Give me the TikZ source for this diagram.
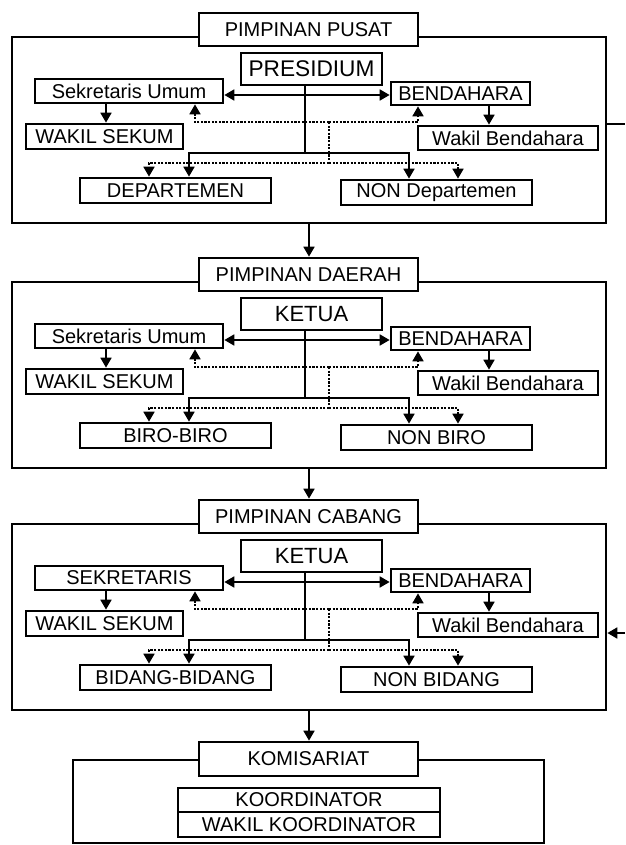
\documentclass[tikz,border=0pt]{standalone}
\usepackage{fontspec}
\setmainfont{Liberation Sans}
\usetikzlibrary{arrows.meta}
\newcommand\bx[6]{\node[#1, minimum width={((#4)-(#2))*0.75pt}, minimum height={((#5)-(#3))*0.75pt}] (#6) at ({((#2)+(#4))/2},{((#3)+(#5))/2})}
\tikzset{
  box/.style={draw, line width=1.9pt, inner sep=0pt, fill=white, font=\fontsize{15}{18}\selectfont},
  frame/.style={draw, line width=1.9pt, inner sep=0pt},
  ln/.style={line width=1.9pt},
  arr/.style={line width=1.9pt, -{Triangle[length=7.5pt,width=8pt]}},
  darr/.style={line width=1.9pt, {Triangle[length=7.5pt,width=8pt]}-{Triangle[length=7.5pt,width=8pt]}},
  dot/.style={dash pattern=on 1.6pt off 1.1pt},
}
\newcommand\orgsec[8]{%
  \bx{frame}{12}{37+#2}{606}{223+#2}{out#1}{};
  \bx{box}{199}{13+#2}{418}{46+#2}{tt#1}{#3};
  \bx{box,font=\fontsize{#8}{#8}\selectfont}{241}{53+#2}{382}{85+#2}{hd#1}{#4};
  \bx{box}{35}{79+#2}{223}{103+#2}{sl#1}{#5};
  \bx{box}{391}{82+#2}{530}{105+#2}{bd#1}{BENDAHARA};
  \bx{box}{26}{124+#2}{183}{149+#2}{ws#1}{WAKIL SEKUM};
  \bx{box}{418}{126+#2}{598}{150+#2}{wb#1}{Wakil Bendahara};
  \bx{box}{80}{178+#2}{271}{203+#2}{bl#1}{#6};
  \bx{box}{341}{180+#2}{532}{205+#2}{br#1}{#7};
  \coordinate (bus#1) at (305,{153+#2});
  \coordinate (da#1) at (0,{95+#2});
  \coordinate (dm#1) at (329,{122+#2});
  \coordinate (dn#1) at (329,{163+#2});
  \draw[ln] (hd#1.south -| bus#1) -- (bus#1);
  \draw[arr] (bus#1) -| (bl#1.north -| 189,0);
  \draw[arr] (bus#1) -| (br#1.north -| 409,0);
  \draw[darr] (sl#1.east |- da#1) -- (bd#1.west |- da#1);
  \draw[arr] (sl#1.south -| 106,0) -- (ws#1.north -| 106,0);
  \draw[arr] (bd#1.south -| 489,0) -- (wb#1.north -| 489,0);
  \draw[arr,dot] (dm#1) -| (sl#1.south -| 195,0);
  \draw[arr,dot] (dm#1) -| (bd#1.south -| 418,0);
  \draw[ln,dot] (dm#1) -- (dn#1);
  \draw[arr,dot] (dn#1) -| (bl#1.north -| 149,0);
  \draw[arr,dot] (dn#1) -| (br#1.north -| 458,0);
}
\begin{document}
\begin{tikzpicture}[x=0.75pt,y=-0.75pt]
\useasboundingbox (0,0) rectangle (625,845);
\orgsec{A}{0}{PIMPINAN PUSAT}{PRESIDIUM}{Sekretaris Umum}{DEPARTEMEN}{NON Departemen}{17}
\orgsec{B}{245}{PIMPINAN DAERAH}{KETUA}{Sekretaris Umum}{BIRO-BIRO}{NON BIRO}{16.5}
\orgsec{C}{487}{PIMPINAN CABANG}{KETUA}{SEKRETARIS}{BIDANG-BIDANG}{NON BIDANG}{16.5}
\bx{frame}{73}{760}{544}{843}{outD}{};
\bx{box}{199}{742}{418}{776}{ttD}{KOMISARIAT};
\bx{box}{178}{788}{440}{812}{koA}{KOORDINATOR};
\bx{box}{178}{812}{440}{837}{koB}{WAKIL KOORDINATOR};
\draw[arr] (outA.south -| 309,0) -- (ttB.north -| 309,0);
\draw[arr] (outB.south -| 309,0) -- (ttC.north -| 309,0);
\draw[arr] (outC.south -| 309,0) -- (ttD.north -| 309,0);
\coordinate (rA) at (625,124);
\draw[ln] (outA.east |- rA) -- (rA);
\coordinate (rC) at (625,633);
\draw[arr] (rC) -- (outC.east |- rC);
\end{tikzpicture}
\end{document}
